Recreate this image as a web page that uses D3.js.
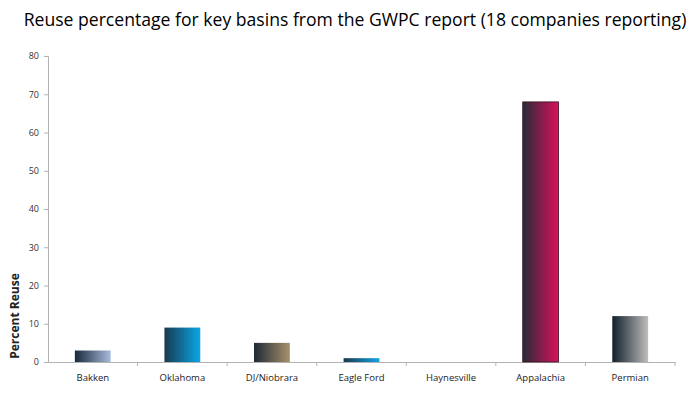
<!DOCTYPE html>
<html>
<head>
<meta charset="utf-8">
<script src="https://cdn.jsdelivr.net/npm/d3@7"></script>
<style>
  body { margin: 0; background: #fff; }
  text { font-family: "Open Sans", "Noto Sans", sans-serif; }
</style>
</head>
<body>
<div id="chart"></div>
<script>
// datos
const basins = ['Bakken', 'Oklahoma', 'DJ/Niobrara', 'Eagle Ford', 'Haynesville', 'Appalachia', 'Permian'];
const reuse = [3, 9, 5, 1, 0, 68, 12];
const yTicks = [0, 10, 20, 30, 40, 50, 60, 70, 80];
const gradStops = [
  ['#17293a', '#a9bbdc'],
  ['#183a4f', '#0aa6e6'],
  ['#1d2a36', '#a8916a'],
  ['#183a4f', '#12a6e6'],
  ['#1d2a36', '#999999'],
  ['#272a38', '#d8125c'],
  ['#121f2b', '#bdbdbd']
];

const width = 700, height = 395;
const margin = { top: 56, right: 25, bottom: 33, left: 48 };

const svg = d3.select('#chart').append('svg')
  .attr('width', width)
  .attr('height', height);

const x = d3.scaleBand()
  .domain(basins)
  .range([margin.left, width - margin.right]);

const y = d3.scaleLinear()
  .domain([0, 80])
  .range([height - margin.bottom, margin.top]);

// gradientes
const defs = svg.append('defs');
gradStops.forEach((g, i) => {
  const lg = defs.append('linearGradient')
    .attr('id', 'g' + i)
    .attr('x1', '0%').attr('x2', '100%')
    .attr('y1', '0%').attr('y2', '0%');
  lg.append('stop').attr('offset', '0%').attr('stop-color', g[0]);
  lg.append('stop').attr('offset', '100%').attr('stop-color', g[1]);
});

// titulo
svg.append('text')
  .attr('x', 355)
  .attr('y', 26)
  .attr('text-anchor', 'middle')
  .attr('font-size', 17.6)
  .attr('fill', '#000')
  .text('Reuse percentage for key basins from the GWPC report (18 companies reporting)');

// eje y
const yAxis = svg.append('g')
  .attr('transform', `translate(${margin.left},0)`)
  .call(d3.axisLeft(y).tickValues(yTicks).tickSize(4).tickPadding(5));
yAxis.selectAll('text').attr('font-size', 9).attr('fill', '#333');
yAxis.selectAll('line, path').attr('stroke', '#b3b3b3');

// eje x
const xAxis = svg.append('g')
  .attr('transform', `translate(0,${height - margin.bottom})`)
  .call(d3.axisBottom(x).tickSize(0).tickPadding(12));
xAxis.selectAll('text').attr('font-size', 9.5).attr('fill', '#222');
xAxis.select('.domain').attr('stroke', '#b3b3b3');
xAxis.selectAll('.sep')
  .data(basins)
  .enter()
  .append('line')
  .attr('x1', d => x(d) + x.bandwidth())
  .attr('x2', d => x(d) + x.bandwidth())
  .attr('y1', 0)
  .attr('y2', 4)
  .attr('stroke', '#b3b3b3');

// barras
const barW = x.bandwidth() * 0.4;
svg.append('g')
  .selectAll('rect')
  .data(basins)
  .enter()
  .append('rect')
  .attr('x', d => x(d) + (x.bandwidth() - barW) / 2)
  .attr('y', (d, i) => y(reuse[i]))
  .attr('width', barW)
  .attr('height', (d, i) => y(0) - y(reuse[i]))
  .attr('fill', (d, i) => `url(#g${i})`)
  .attr('stroke', (d, i) => i === 5 ? '#3a1020' : 'none')
  .attr('stroke-width', 0.8);

// etiqueta y
svg.append('text')
  .attr('transform', 'translate(19,316) rotate(-90)')
  .attr('text-anchor', 'middle')
  .attr('font-size', 12)
  .attr('font-weight', 'bold')
  .attr('fill', '#222')
  .text('Percent Reuse');
</script>
</body>
</html>
